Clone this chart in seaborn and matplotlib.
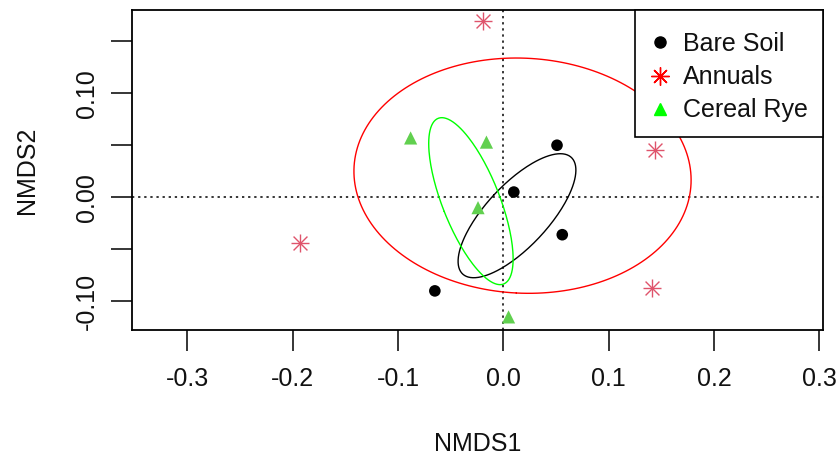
import numpy as np
import pandas as pd
import seaborn as sns
import matplotlib
matplotlib.use("Agg")
import matplotlib.pyplot as plt
from matplotlib.lines import Line2D
from matplotlib.patches import Rectangle

# ---- data ----
groups = ["Bare Soil", "Annuals", "Cereal Rye"]
bare_x = [0.051, 0.010, 0.056, -0.065]
bare_y = [0.050, 0.005, -0.036, -0.090]
annual_x = [-0.019, 0.144, -0.193, 0.141]
annual_y = [0.169, 0.045, -0.044, -0.087]
rye_x = [-0.088, -0.016, -0.024, 0.005]
rye_y = [0.057, 0.053, -0.010, -0.115]
x_ticks = [-0.3, -0.2, -0.1, 0.0, 0.1, 0.2, 0.3]
y_ticks = [-0.10, -0.05, 0.00, 0.05, 0.10, 0.15]
y_ticklabels = ["-0.10", "", "0.00", "", "0.10", ""]

df = pd.DataFrame({
    "NMDS1": bare_x + annual_x + rye_x,
    "NMDS2": bare_y + annual_y + rye_y,
    "group": ["Bare Soil"] * 4 + ["Annuals"] * 4 + ["Cereal Rye"] * 4,
})

sns.set_theme(style="white")
plt.rcParams["font.family"] = ["Liberation Sans", "DejaVu Sans"]

fig = plt.figure(figsize=(8.38, 4.62), dpi=100)
ax = fig.add_axes([132 / 838, 1 - 330 / 462, (823 - 132) / 838, (330 - 10) / 462])

point_col = {"Bare Soil": "black", "Annuals": "#DF536B", "Cereal Rye": "#61D04F"}
ell_col = {"Bare Soil": "black", "Annuals": "#FF0000", "Cereal Rye": "#00FF00"}

# dotted reference lines
ax.axhline(0, color="black", lw=1.1, ls=(0, (1.5, 2.5)), zorder=1)
ax.axvline(0, color="black", lw=1.1, ls=(0, (1.5, 2.5)), zorder=1)

# points
sub = df[df.group == "Bare Soil"]
sns.scatterplot(data=sub, x="NMDS1", y="NMDS2", color=point_col["Bare Soil"],
                marker="o", s=70, edgecolor="none", ax=ax, zorder=3, legend=False)
sub = df[df.group == "Cereal Rye"]
sns.scatterplot(data=sub, x="NMDS1", y="NMDS2", color=point_col["Cereal Rye"],
                marker="^", s=90, edgecolor="none", ax=ax, zorder=3, legend=False)
sub = df[df.group == "Annuals"]
for mk in ["+", "x"]:
    sns.scatterplot(data=sub, x="NMDS1", y="NMDS2", color=point_col["Annuals"],
                    marker=mk, s=150 if mk == "+" else 100, linewidth=1.0, ax=ax,
                    zorder=3, legend=False)

# 1-SD ellipses from each group's covariance
t = np.linspace(0, 2 * np.pi, 200)
for g in groups:
    sub = df[df.group == g]
    pts = sub[["NMDS1", "NMDS2"]].to_numpy()
    c = pts.mean(axis=0)
    cov = np.cov(pts.T)
    vals, vecs = np.linalg.eigh(cov)
    circ = np.vstack([np.cos(t), np.sin(t)])
    ell = (vecs @ np.diag(np.sqrt(vals)) @ circ).T + c
    ax.plot(ell[:, 0], ell[:, 1], color=ell_col[g], lw=1.0, zorder=2)

ax.set_xlim(-0.3526, 0.3036)
ax.set_ylim(-0.1276, 0.180)
ax.set_xticks(x_ticks)
ax.set_xticklabels([f"{v:.1f}" for v in x_ticks])
ax.set_yticks(y_ticks)
ax.set_yticklabels(y_ticklabels, rotation=90, va="center")
ax.tick_params(axis="both", direction="out", length=15, width=1.1, color="black",
               labelsize=18, labelcolor="#111111", bottom=True, left=True)
ax.tick_params(axis="x", pad=12)
ax.tick_params(axis="y", pad=9)
for sp in ax.spines.values():
    sp.set_color("black")
    sp.set_linewidth(1.3)
ax.set_xlabel("NMDS1", fontsize=18, labelpad=29, color="#111111")
ax.set_ylabel("NMDS2", fontsize=18, labelpad=26, color="#111111")

# legend box (R style)
x0 = (635 - 132) / 691
y0 = (330 - 137) / 320
ax.add_patch(Rectangle((x0, y0), 1 - x0, 1 - y0, transform=ax.transAxes,
                       facecolor="white", edgecolor="black", lw=1.2, zorder=5,
                       clip_on=False))
handles = [
    Line2D([], [], ls="none", marker="o", color="black", markersize=8),
    Line2D([], [], ls="none", marker=(8, 2, 0), color="#FF0000", markersize=13, mew=1.0),
    Line2D([], [], ls="none", marker="^", color="#00FF00", markersize=9),
]
leg = ax.legend(handles, groups, loc="upper left",
                bbox_to_anchor=((647.5 - 132) / 691, (330 - 32) / 320),
                borderaxespad=0, borderpad=0, frameon=False, fontsize=18,
                handletextpad=0.42, labelspacing=0.37, handlelength=1.0)
leg.set_zorder(6)
for txt in leg.get_texts():
    txt.set_color("#111111")

fig.savefig("out.png", dpi=100)
